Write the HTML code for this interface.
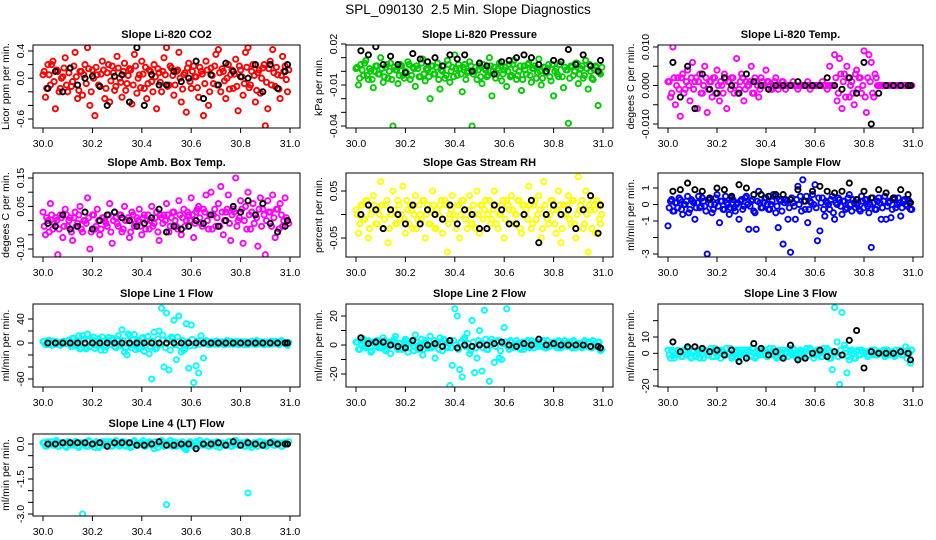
<!DOCTYPE html>
<html><head><meta charset="utf-8"><style>
html,body{margin:0;padding:0;background:#fff;}
svg{display:block;font-family:"Liberation Sans",sans-serif;}
</style></head><body>
<svg id="chart" width="936" height="540" viewBox="0 0 936 540" xmlns="http://www.w3.org/2000/svg">
<rect width="936" height="540" fill="#fff"/>
<text x="468" y="14" text-anchor="middle" font-size="13.5">SPL_090130&#160; 2.5 Min. Slope Diagnostics</text>
</svg>
<script>
const times = [30.00,30.01,30.02,30.03,30.04,30.05,30.06,30.07,30.08,30.09,30.10,30.11,30.12,30.13,30.14,30.15,30.16,30.17,30.18,30.19,30.20,30.21,30.22,30.23,30.24,30.25,30.26,30.27,30.28,30.29,30.30,30.31,30.32,30.33,30.34,30.35,30.36,30.37,30.38,30.39,30.40,30.41,30.42,30.43,30.44,30.45,30.46,30.47,30.48,30.49,30.50,30.51,30.52,30.53,30.54,30.55,30.56,30.57,30.58,30.59,30.60,30.61,30.62,30.63,30.64,30.65,30.66,30.67,30.68,30.69,30.70,30.71,30.72,30.73,30.74,30.75,30.76,30.77,30.78,30.79,30.80,30.81,30.82,30.83,30.84,30.85,30.86,30.87,30.88,30.89,30.90,30.91,30.92,30.93,30.94,30.95,30.96,30.97,30.98,30.99];
const times2 = [30.005,30.015,30.025,30.035,30.045,30.055,30.065,30.075,30.085,30.095,30.105,30.115,30.125,30.135,30.145,30.155,30.165,30.175,30.185,30.195,30.205,30.215,30.225,30.235,30.245,30.255,30.265,30.275,30.285,30.295,30.305,30.315,30.325,30.335,30.345,30.355,30.365,30.375,30.385,30.395,30.405,30.415,30.425,30.435,30.445,30.455,30.465,30.475,30.485,30.495,30.505,30.515,30.525,30.535,30.545,30.555,30.565,30.575,30.585,30.595,30.605,30.615,30.625,30.635,30.645,30.655,30.665,30.675,30.685,30.695,30.705,30.715,30.725,30.735,30.745,30.755,30.765,30.775,30.785,30.795,30.805,30.815,30.825,30.835,30.845,30.855,30.865,30.875,30.885,30.895,30.905,30.915,30.925,30.935,30.945,30.955,30.965,30.975,30.985,30.995];
const blackTimes = [30.02,30.05,30.08,30.11,30.14,30.17,30.20,30.23,30.26,30.29,30.32,30.35,30.38,30.41,30.44,30.47,30.50,30.53,30.56,30.59,30.62,30.65,30.68,30.71,30.74,30.77,30.80,30.83,30.86,30.89,30.92,30.95,30.98,30.99];
const xTicks = [30.0,30.2,30.4,30.6,30.8,31.0];
const xTickLabels = ["30.0","30.2","30.4","30.6","30.8","31.0"];

const co2Values = [0.05,-0.28,0.2,-0.1,0.25,-0.45,0.1,-0.15,0.02,0.3,-0.2,0.15,-0.05,0.38,-0.3,0.1,-0.25,0.2,0.45,-0.4,0.12,-0.55,0.05,-0.12,0.25,-0.3,0.08,-0.35,0.18,-0.18,0.32,0.0,-0.28,0.22,-0.08,0.14,-0.38,0.35,-0.22,0.05,0.25,-0.15,-0.3,0.12,-0.05,0.2,-0.45,0.08,-0.2,0.3,0.45,-0.1,0.15,-0.25,0.1,0.38,-0.35,0.05,-0.5,0.22,-0.15,0.18,0.02,-0.28,0.1,-0.55,0.25,-0.4,0.15,-0.08,0.35,0.42,-0.2,0.1,-0.3,0.2,0.05,-0.15,0.28,-0.48,0.12,-0.25,0.38,0.45,-0.1,0.2,-0.35,0.08,-0.22,0.15,-0.7,-0.45,0.25,0.42,-0.12,0.05,-0.3,0.32,0.18,-0.2];
const co2Band = [0.1,-0.15,0.05,0.2,-0.05,0.12,-0.2,0.0,0.15,-0.1,0.08,-0.12,0.18,0.02,-0.18,0.1,0.05,-0.08,0.14,-0.2,0.0,0.16,-0.1,0.06,0.12,-0.15,0.2,-0.04,0.08,-0.12,0.15,-0.06,0.1,-0.18,0.04,0.12,-0.1,0.18,0.0,-0.14,0.06,0.16,-0.08,0.1,-0.2,0.02,0.14,-0.06,0.1,0.05,-0.12,0.18,0.04,-0.1,0.12,0.0,-0.16,0.08,0.15,-0.05,0.1,0.02,-0.14,0.16,0.06,-0.08,0.12,-0.2,0.04,0.18,-0.1,0.08,0.14,-0.04,0.0,-0.16,0.12,0.06,-0.12,0.18,0.02,-0.08,0.16,-0.14,0.1,0.04,-0.18,0.12,0.0,0.2,-0.06,0.14,-0.1,0.08,0.16,-0.16,0.04,0.1,-0.02,0.12];
const co2Black = [-0.15,0.1,-0.2,0.15,-0.1,0.0,0.03,-0.12,-0.4,0.03,0.05,-0.35,0.45,-0.4,0.05,-0.1,-0.1,0.1,-0.05,0.0,0.25,-0.3,0.05,-0.1,0.22,0.1,0.02,0.0,0.2,-0.2,0.2,-0.15,0.1,0.2];
const pressValues = [0.002,-0.01,0.005,-0.003,0.008,-0.006,0.0,-0.012,0.004,-0.002,0.01,-0.008,0.003,-0.005,0.006,-0.04,0.001,-0.009,0.005,-0.003,0.0,0.007,-0.006,0.003,-0.011,0.002,-0.004,0.009,-0.007,0.001,-0.02,0.004,-0.002,0.006,-0.013,0.0,-0.005,0.008,-0.008,0.003,0.012,-0.003,0.002,-0.015,0.005,-0.001,0.007,-0.04,0.0,-0.006,0.004,-0.009,0.002,-0.004,0.01,-0.018,0.003,-0.002,0.006,-0.007,0.001,-0.011,0.005,-0.003,0.008,-0.006,0.0,-0.014,0.004,-0.002,0.006,-0.008,0.002,-0.005,0.009,-0.01,0.003,-0.001,0.005,-0.007,-0.018,0.002,-0.004,0.007,-0.012,0.001,-0.038,0.004,-0.003,0.006,-0.009,0.002,-0.005,0.008,-0.013,0.0,-0.006,0.004,-0.025,-0.002];
const pressBand = [0.003,-0.005,0.001,0.006,-0.003,0.002,-0.006,0.0,0.004,-0.002,0.002,-0.004,0.005,0.0,-0.006,0.003,0.001,-0.003,0.004,-0.005,-0.001,0.005,-0.003,0.002,0.004,-0.004,0.006,-0.002,0.002,-0.004,0.004,-0.002,0.003,-0.006,0.001,0.004,-0.003,0.005,0.0,-0.004,0.002,0.005,-0.002,0.003,-0.006,0.0,0.004,-0.002,0.003,0.001,-0.004,0.005,0.001,-0.003,0.004,0.0,-0.005,0.002,0.004,-0.002,0.003,0.0,-0.004,0.005,0.002,-0.003,0.004,-0.006,0.001,0.005,-0.003,0.002,0.004,-0.001,0.0,-0.005,0.003,0.002,-0.004,0.005,0.0,-0.002,0.005,-0.004,0.003,0.001,-0.005,0.003,0.0,0.006,-0.002,0.004,-0.003,0.002,0.005,-0.005,0.001,0.003,-0.001,0.003];
const pressBlack = [0.015,0.012,0.018,0.005,0.011,0.005,-0.001,0.013,0.009,0.007,0.01,0.004,0.012,0.009,0.012,0.0,0.006,0.004,-0.002,0.007,0.008,0.01,0.012,0.01,0.005,0.0,0.008,0.007,0.016,0.005,0.012,0.004,0.0,0.008];
const tempValues = [0.001,-0.003,0.010,-0.005,0.002,-0.008,0.003,-0.001,0.004,-0.004,0.006,0.001,-0.006,0.003,-0.002,0.005,-0.007,0.001,-0.003,0.002,0.004,-0.004,0.0,0.003,-0.006,0.001,0.002,-0.002,0.007,-0.001,0.003,-0.004,0.001,0.0,0.005,-0.002,0.001,-0.003,0.002,0.0,0.004,0.001,-0.001,0.0,0.002,-0.001,0.0,0.001,-0.001,0.0,0.0,0.001,0.0,-0.001,0.0,0.0,0.0,0.001,-0.001,0.0,0.0,0.0,0.0,0.001,0.0,-0.001,0.005,0.0,0.008,-0.004,0.007,-0.006,0.003,0.005,-0.003,0.001,-0.005,0.004,0.002,-0.002,0.009,-0.007,0.008,0.006,-0.003,0.002,0.0,0.0,0.0,0.0,0,0,0,0,0,0,0,0,0,0];
const tempBand = [0.001,-0.002,0.002,0.0,-0.001,0.002,-0.002,0.001,0.0,0.002,-0.001,0.002,0.001,-0.002,0.0,0.002,-0.001,0.001,0.002,-0.002,0.0,0.001,-0.002,0.002,0.001,-0.001,0.002,0.0,-0.002,0.001,0.002,-0.001,0.0,0.001,-0.002,0.002,0.0,-0.001,0.001,0.0,0.001,0.0,-0.001,0.001,0.0,0.0,0.001,0.0,0.0,0.0,0,0,0,0,0,0,0,0,0,0,0,0,0,0,0,0,0,0,0.002,-0.002,0.003,0.001,-0.003,0.002,0.0,-0.002,0.003,-0.001,0.002,0.0,-0.003,0.002,0.001,-0.002,0.003,0.0,0,0,0,0,0,0,0,0,0,0,0,0,0,0];
const tempBlack = [0.006,-0.003,0.005,-0.006,0.003,-0.001,-0.002,0.002,0.0,-0.002,0.003,0.001,0.0,-0.001,0.0,0.0,0.0,0.001,0.0,0.0,0.0,0.002,0.0,-0.001,0.002,-0.002,0.006,-0.01,-0.002,0.0,0.0,0.0,0.0,0.0];
const ambValues = [0.03,-0.05,0.0,0.06,-0.03,0.01,-0.12,0.02,-0.06,0.04,-0.02,0.01,-0.07,0.03,-0.01,0.05,-0.04,0.0,0.08,-0.1,0.02,-0.03,0.04,-0.05,0.01,0.0,-0.02,0.06,-0.08,0.03,-0.01,0.02,-0.04,0.05,0.0,-0.06,0.03,-0.02,0.01,0.04,-0.05,0.02,0.0,-0.03,0.05,-0.01,0.03,-0.07,0.01,0.02,0.06,-0.04,0.01,0.03,-0.02,0.07,-0.05,0.04,0.0,0.02,0.08,-0.06,0.03,0.05,-0.01,0.04,0.09,-0.03,0.1,0.02,-0.02,0.06,0.12,-0.05,0.03,0.09,-0.07,0.04,0.15,0.0,0.07,-0.08,0.05,0.1,-0.03,0.06,0.02,-0.09,0.08,0.04,-0.12,0.07,0.03,0.09,-0.06,0.04,0.06,-0.02,0.08,0.0];
const ambBand = [-0.02,0.01,-0.04,0.02,-0.01,0.0,-0.03,0.01,-0.02,0.02,0.0,-0.04,0.01,-0.02,0.02,-0.03,0.0,-0.01,0.01,-0.04,0.02,-0.02,0.0,-0.03,0.01,-0.01,0.02,-0.04,0.0,0.01,-0.02,0.02,-0.03,0.0,0.01,-0.04,0.02,-0.01,0.0,-0.02,0.01,-0.03,0.02,0.0,-0.02,0.01,-0.04,0.02,-0.01,0.0,0.02,-0.02,0.03,0.0,-0.03,0.02,0.01,-0.02,0.03,0.0,0.02,-0.01,0.04,0.01,-0.02,0.03,0.0,0.02,-0.03,0.04,0.01,-0.02,0.03,0.0,0.04,-0.01,0.02,0.03,-0.02,0.01,0.04,0.0,-0.03,0.02,0.03,-0.01,0.01,0.04,-0.02,0.02,0.0,0.03,-0.02,0.01,0.04,-0.03,0.02,0.0,0.01,-0.01];
const ambBlack = [-0.01,-0.02,0.02,-0.03,-0.02,0.03,-0.03,0.0,0.02,0.03,0.01,0.0,-0.02,-0.01,0.01,0.04,-0.04,-0.02,-0.03,-0.02,0.0,-0.01,0.02,-0.02,0.0,0.05,0.03,0.07,0.02,0.06,-0.01,-0.04,-0.02,0.0];
const rhValues = [0.01,-0.04,0.02,-0.01,0.03,-0.05,0.0,0.04,-0.02,0.01,0.07,-0.03,0.02,-0.06,0.0,0.05,-0.02,0.03,-0.01,0.06,-0.04,0.01,0.02,-0.03,0.04,-0.01,0.0,0.03,-0.05,0.02,-0.02,0.05,-0.03,0.01,0.02,-0.04,0.03,-0.08,0.0,0.04,-0.01,0.02,-0.05,0.03,0.01,-0.03,0.04,-0.02,0.0,0.05,-0.04,0.02,0.01,-0.03,0.03,-0.01,0.05,-0.02,0.0,0.02,-0.05,0.03,0.01,0.04,-0.02,0.0,0.03,-0.04,0.02,0.01,0.06,-0.03,0.02,-0.01,0.04,-0.05,0.07,0.0,-0.02,0.03,0.01,-0.04,0.05,-0.06,0.02,0.0,0.04,-0.02,0.03,-0.05,0.08,0.02,-0.03,0.05,-0.08,0.01,0.03,-0.04,0.02,-0.02];
const rhBand = [0.0,-0.02,0.02,-0.01,0.03,-0.03,0.01,0.02,-0.02,0.0,0.02,-0.01,0.03,-0.03,0.0,0.01,-0.02,0.02,0.0,-0.01,0.03,-0.02,0.01,0.0,-0.03,0.02,-0.01,0.03,0.0,-0.02,0.01,0.02,-0.03,0.0,0.03,-0.01,0.02,-0.02,0.01,0.0,-0.03,0.02,0.0,0.03,-0.01,0.01,-0.02,0.02,-0.03,0.0,0.02,-0.01,0.03,0.0,-0.02,0.01,0.02,-0.03,0.0,0.03,-0.01,0.02,-0.02,0.01,0.0,0.03,-0.03,0.02,0.0,-0.01,0.02,-0.02,0.03,0.0,0.01,-0.03,0.02,-0.01,0.0,0.03,-0.02,0.01,0.02,-0.03,0.0,0.02,-0.01,0.03,-0.02,0.0,0.01,0.03,-0.02,0.0,0.02,-0.03,0.01,0.03,-0.01,0.0];
const rhBlack = [0.0,0.02,0.01,-0.03,0.01,0.0,-0.02,0.02,-0.02,0.01,0.0,-0.01,0.02,-0.02,0.01,0.0,-0.03,-0.03,0.02,0.01,-0.02,-0.02,0.0,0.03,-0.06,0.0,0.02,0.0,0.01,-0.03,0.01,0.04,-0.04,0.02];
const flowValues = [-1.3,0.2,-0.4,0.1,-0.2,0.3,-0.6,0.0,0.5,-0.3,0.2,-0.9,0.1,-0.2,0.4,-0.1,-3.0,0.3,-0.5,0.0,0.6,-1.1,0.2,-0.3,0.1,-0.6,0.4,-0.2,0.0,-0.9,0.3,-0.1,0.5,-1.5,0.2,-0.4,-1.5,0.8,-0.2,0.1,0.4,-0.3,0.0,0.6,-0.5,-1.4,0.2,-2.4,0.3,-0.9,-2.9,0.1,-0.9,1.1,0.5,1.5,-0.3,-1.1,0.2,0.6,1.2,-2.2,-1.6,0.4,-0.7,0.1,-0.3,0.5,-0.9,0.0,0.3,-0.6,0.2,-0.2,0.6,-0.4,0.1,0.0,-0.3,0.5,-0.2,0.3,-0.5,-2.6,0.1,-0.3,0.4,-0.9,0.2,-0.9,0.1,-0.8,0.3,-0.2,0.4,-0.7,0.2,0.0,0.3,-0.3];
const flowBand = [-0.2,0.3,-0.4,0.1,0.4,-0.3,0.0,0.2,-0.5,0.3,0.1,-0.2,0.5,-0.1,0.2,-0.4,0.3,0.0,-0.3,0.4,-0.1,0.2,-0.3,0.5,0.0,-0.2,0.3,-0.4,0.1,0.2,-0.3,0.4,0.0,-0.1,0.3,-0.5,0.2,0.1,-0.2,0.4,0.0,-0.3,0.2,0.5,-0.1,0.3,-0.4,0.1,0.2,-0.2,0.4,-0.1,0.3,0.0,-0.4,0.2,0.5,-0.3,0.1,0.0,-0.2,0.4,0.1,-0.3,0.2,0.0,0.3,-0.5,0.1,0.4,-0.1,0.2,-0.3,0.4,0.0,0.3,-0.2,0.1,-0.4,0.2,0.3,-0.1,0.0,0.4,-0.3,0.2,0.1,-0.2,0.5,-0.1,0.2,-0.3,0.4,0.0,0.1,-0.2,0.3,-0.1,0.2,-0.3];
const flowBlack = [0.8,0.9,1.3,0.9,0.8,0.4,1.0,0.9,0.5,1.2,1.0,0.6,0.6,0.5,0.6,0.6,0.3,0.9,0.2,0.8,1.1,0.8,0.7,0.8,1.3,0.3,0.8,0.4,0.9,0.7,0.4,0.9,0.6,0.1];
const line1Values = [2,-3,4,-1,3,-2,1,-4,2,0,3,-2,8,-5,2,-10,12,-8,15,-6,5,-9,3,-4,10,-12,4,-2,8,-6,6,-3,22,-15,-20,12,-8,14,5,-10,8,-14,2,-18,-60,18,-8,20,58,-40,50,-45,10,38,-28,45,-15,-12,32,-42,30,-66,-38,-50,12,-25,4,-3,2,-1,3,-2,1,-2,2,-1,3,-2,1,-3,2,-1,2,-3,1,0,2,-2,1,-1,2,-1,1,-2,3,-1,2,0,1,-4];
const line1Band = [3,-2,4,-4,1,2,-3,0,3,-1,5,-6,8,-3,12,-8,6,-10,4,-5,10,-4,7,-12,3,-6,9,-2,5,-8,12,-5,4,-9,15,-3,6,-11,2,-7,9,-4,11,-6,3,-10,7,-2,13,-8,5,-12,8,-3,10,-6,4,-9,2,-5,6,-4,3,-2,4,-1,2,-3,1,-2,3,-1,2,-3,4,-2,1,0,3,-2,2,-3,1,-1,3,-2,4,-1,2,-3,1,-2,3,-1,2,-3,4,0,-2,1];
const line1Black = [0,0,0,0,0,0,0,0,0,0,0,0,0,0,0,0,0,0,0,0,0,0,0,0,0,0,0,0,0,0,0,0,0,0];
const line2Values = [2,-3,1,4,-2,3,-5,2,-1,3,-2,5,-4,1,-6,2,6,-3,1,-2,4,-5,2,-1,7,-3,1,-7,3,-2,6,-1,-9,2,5,-4,3,-2,-28,-14,25,20,-17,-22,5,8,-6,17,-19,-9,10,-18,24,-3,-25,4,-12,2,-9,-10,12,25,-3,2,-1,3,-2,1,-3,2,-1,3,-2,1,2,-1,3,-2,0,1,2,-1,3,-2,1,0,2,-1,3,-2,1,-1,2,0,1,-2,3,-1,2,-4];
const line2Band = [2,-3,3,-1,0,2,-4,1,3,-2,-1,3,-3,2,0,4,-2,1,-3,2,3,-2,1,-4,2,0,4,-3,1,-1,-2,3,0,-3,2,4,-1,1,-2,3,0,-3,2,4,-1,1,-4,2,-2,3,1,-2,4,-3,0,2,-1,3,-4,1,2,-1,3,-2,0,1,-3,2,-1,3,-2,1,2,-1,0,2,-2,3,-1,1,0,-2,2,-1,3,-1,1,-2,2,0,1,-2,3,-1,2,-2,1,0,2,-3];
const line2Black = [5,1,2,2,0,-1,-2,3,-2,0,1,-1,3,-2,0,-1,0,0,1,2,0,-1,1,0,4,0,1,0,0,0,0,-1,-1,-2];
const line3Values = [2,-3,1,-1,2,0,-2,1,3,-2,1,-1,2,-3,0,2,-1,1,-2,3,-2,1,2,-1,3,0,-3,1,2,-1,0,2,-2,1,-1,3,-2,0,1,-1,2,-1,0,3,-2,1,-1,2,0,-2,1,3,-1,0,2,-2,1,-1,3,0,-1,2,0,-2,1,3,-3,-10,28,7,-19,25,5,-12,-4,2,-3,1,-1,2,0,1,-1,2,0,-1,1,0,2,-1,1,0,-1,2,0,1,-1,4,2,-6];
const line3Band = [-1,2,-3,1,0,-2,2,-1,3,-3,1,-2,0,2,-3,1,-1,3,-2,0,2,-3,1,-1,0,3,-2,1,-3,2,-1,0,2,-2,3,-3,1,-1,2,0,-2,3,-1,1,-3,2,0,-2,1,3,-1,2,-3,0,1,-2,3,-1,2,-3,0,1,-2,3,-1,2,-3,1,0,-2,2,-1,3,-2,1,0,-3,2,-1,1,0,-2,1,-1,2,-1,0,1,-2,2,-1,1,-2,0,2,-1,1,-3,0,2];
const line3Black = [7,1,4,4,3,1,2,-1,2,-5,-3,6,3,-1,1,-3,5,-4,-3,0,2,-2,1,-1,8,14,-9,1,0,0,0,1,0,-4];
const line4Values = [0.05,-0.1,0.1,0.0,-0.05,0.1,-0.1,0.05,0.0,-0.1,0.1,-0.05,0.0,0.1,-0.1,0.05,-3.0,0.0,-0.1,0.1,0.0,-0.15,0.05,-0.1,0.1,0.0,-0.05,0.1,-0.1,0.05,0.0,-0.1,0.1,-0.05,0.05,0.0,-0.1,0.15,-0.05,0.0,0.05,-0.1,0.0,0.1,-0.05,-0.2,0.0,0.05,0.15,-0.1,-2.6,-0.05,0.0,0.1,-0.1,0.05,0.0,-0.15,-0.25,0.05,0.0,-0.1,0.1,0.05,-0.05,0.0,0.1,-0.1,0.05,0.0,-0.1,0.05,0.0,-0.05,0.0,0.1,-0.1,0.0,0.15,-0.05,0.05,0.0,-0.1,-2.1,-0.05,0.0,0.05,-0.1,0.1,0.0,-0.05,0.05,0.0,0.1,-0.05,0.0,0.05,-0.1,0.05,0.0];
const line4Band = [0.05,-0.1,0.0,0.1,-0.05,0.15,-0.1,0.0,0.05,-0.15,0.1,0.0,-0.05,0.1,-0.15,0.05,0.0,-0.1,0.15,-0.05,0.0,0.1,-0.15,0.05,-0.05,0.1,0.0,-0.1,0.05,0.15,-0.05,0.0,0.1,-0.1,0.05,-0.15,0.1,0.0,-0.05,0.05,0.15,-0.1,0.0,0.05,-0.05,0.1,-0.15,0.0,0.1,-0.05,0.05,0.15,-0.1,0.0,0.05,-0.05,0.1,-0.2,0.0,0.1,-0.05,0.05,-0.1,0.15,0.0,-0.05,0.1,-0.1,0.05,0.0,0.1,-0.15,0.05,0.0,-0.05,0.1,-0.1,0.15,0.0,-0.05,0.05,-0.1,0.1,0.0,-0.15,0.05,0.0,0.1,-0.05,0.05,-0.1,0.0,0.1,-0.05,0.05,0.0,-0.1,0.05,0.0,0.1];
const line4Black = [0.0,0.0,0.05,0.05,0.05,0.05,0.0,0.05,-0.1,0.05,0.05,0.05,-0.05,-0.05,0.0,0.1,-0.05,-0.05,0.0,0.0,-0.2,0.0,0.0,0.05,-0.05,0.1,-0.05,0.05,0.0,-0.05,0.05,0.0,0.0,0.0];

const co2Ticks=[0.4,0.2,0.0,-0.2,-0.4,-0.6], co2Labels=["0.4","","0.0","","","-0.6"];
const pressTicks=[0.02,0.01,0.0,-0.01,-0.02,-0.03,-0.04], pressLabels=["0.02","","","-0.01","","","-0.04"];
const tempTicks=[0.010,0.005,0.0,-0.005,-0.010], tempLabels=["0.010","","0.000","","-0.010"];
const ambTicks=[0.15,0.10,0.05,0.0,-0.05,-0.10], ambLabels=["0.15","","0.05","","","-0.10"];
const rhTicks=[0.05,0.0,-0.05], rhLabels=["0.05","","-0.05"];
const flowTicks=[1,0,-1,-2,-3], flowLabels=["1","0","-1","","-3"];
const line1Ticks=[40,20,0,-20,-40,-60], line1Labels=["40","","0","","","-60"];
const line2Ticks=[20,10,0,-10,-20], line2Labels=["20","","0","","-20"];
const line3Ticks=[20,10,0,-10,-20], line3Labels=["","10","0","","-20"];
const line4Ticks=[0,-0.5,-1,-1.5,-2,-2.5,-3], line4Labels=["0.0","","","-1.5","","","-3.0"];

const panels = [
 {name:"co2",title:"Slope Li-820 CO2",ylab:"Licor ppm per min.",col:0,row:0,color:"#ff0000",vals:co2Values,band:co2Band,blk:co2Black,ticks:co2Ticks,labels:co2Labels,ref:[0.4,51,-0.6,119]},
 {name:"pressure",title:"Slope Li-820 Pressure",ylab:"kPa per min.",col:1,row:0,color:"#00cc00",vals:pressValues,band:pressBand,blk:pressBlack,ticks:pressTicks,labels:pressLabels,ref:[0.02,44,-0.04,126]},
 {name:"temp",title:"Slope Li-820 Temp.",ylab:"degees C per min.",col:2,row:0,color:"#ff00ff",vals:tempValues,band:tempBand,blk:tempBlack,ticks:tempTicks,labels:tempLabels,ref:[0.01,47,-0.01,124]},
 {name:"amb-box-temp",title:"Slope Amb. Box Temp.",ylab:"degees C per min.",col:0,row:1,color:"#ff00ff",vals:ambValues,band:ambBand,blk:ambBlack,ticks:ambTicks,labels:ambLabels,ref:[0.15,178,-0.10,249]},
 {name:"gas-rh",title:"Slope Gas Stream RH",ylab:"percent per min.",col:1,row:1,color:"#ffff00",vals:rhValues,band:rhBand,blk:rhBlack,ticks:rhTicks,labels:rhLabels,ref:[0.05,191,-0.05,238]},
 {name:"sample-flow",title:"Slope Sample Flow",ylab:"ml/min per min.",col:2,row:1,color:"#0000ff",vals:flowValues,band:flowBand,blk:flowBlack,ticks:flowTicks,labels:flowLabels,ref:[1,188,-3,254]},
 {name:"line1",title:"Slope Line 1 Flow",ylab:"ml/min per min.",col:0,row:2,color:"#00ffff",vals:line1Values,band:line1Band,blk:line1Black,ticks:line1Ticks,labels:line1Labels,ref:[40,319,-60,379]},
 {name:"line2",title:"Slope Line 2 Flow",ylab:"ml/min per min.",col:1,row:2,color:"#00ffff",vals:line2Values,band:line2Band,blk:line2Black,ticks:line2Ticks,labels:line2Labels,ref:[20,316,-20,374]},
 {name:"line3",title:"Slope Line 3 Flow",ylab:"ml/min per min.",col:2,row:2,color:"#00ffff",vals:line3Values,band:line3Band,blk:line3Black,ticks:line3Ticks,labels:line3Labels,ref:[10,337,-20,386]},
 {name:"line4",title:"Slope Line 4 (LT) Flow",ylab:"ml/min per min.",col:0,row:3,color:"#00ffff",vals:line4Values,band:line4Band,blk:line4Black,ticks:line4Ticks,labels:line4Labels,ref:[0,444,-3,514]}
];
const colX30=[43,356,668], colX31=[290,603,913];
const rowTop=[45,173,304,434], rowBot=[128,257,387,516];
const NS="http://www.w3.org/2000/svg";
const svg=document.getElementById("chart");
function mk(tag,attrs,parent){const e=document.createElementNS(NS,tag);for(const k in attrs)e.setAttribute(k,attrs[k]);(parent||svg).appendChild(e);return e;}

panels.forEach(p=>{
  const x0=colX30[p.col], x1=colX31[p.col];
  const xs=v=>x0+(v-30)*(x1-x0);
  const ys=v=>p.ref[1]+(v-p.ref[0])*(p.ref[3]-p.ref[1])/(p.ref[2]-p.ref[0]);
  const L=x0-10,R=x1+10,T=rowTop[p.row],B=rowBot[p.row];
  const g=mk("g",{});
  
  
  const t=mk("text",{x:(L+R)/2,y:T-7,"text-anchor":"middle","font-size":"11","font-weight":"bold"},g);
  t.textContent=p.title;
  
  
  const cp=mk("clipPath",{id:"cp"+p.name},g);
  mk("rect",{x:L,y:T,width:R-L,height:B-T},cp);
  const pts=mk("g",{"clip-path":"url(#cp"+p.name+")",fill:"none","stroke-width":"1.9"},g);
  
  
  const nb=Math.min(times2.length,p.band.length);
  for(let i=0;i<nb;i++){
    const c=mk("circle",{cx:xs(times2[i]).toFixed(1),cy:ys(p.band[i]).toFixed(1),r:2.6,stroke:p.color},pts);
    
    
  }
  const n=Math.min(times.length,p.vals.length);
  for(let i=0;i<n;i++){
    const c=mk("circle",{cx:xs(times[i]).toFixed(1),cy:ys(p.vals[i]).toFixed(1),r:2.6,stroke:p.color},pts);
    
    
  }
  const m=Math.min(blackTimes.length,p.blk.length);
  for(let i=0;i<m;i++){
    const c=mk("circle",{cx:xs(blackTimes[i]).toFixed(1),cy:ys(p.blk[i]).toFixed(1),r:2.6,stroke:"#000"},pts);
    
    
  }
  const box=mk("rect",{x:L,y:T,width:R-L,height:B-T,fill:"none",stroke:"#000","stroke-width":"1"},g);
  
  
  const xa=mk("g",{},g);
  
  
  mk("line",{x1:xs(xTicks[0]),x2:xs(xTicks[xTicks.length-1]),y1:B,y2:B,stroke:"#000"},xa);
  xTicks.forEach((v,i)=>{
    mk("line",{x1:xs(v),x2:xs(v),y1:B,y2:B+5,stroke:"#000"},xa);
    const tl=mk("text",{x:xs(v),y:B+19,"text-anchor":"middle","font-size":"10.5"},xa);
    tl.textContent=xTickLabels[i];
    
    
  });
  const ya=mk("g",{},g);
  
  
  mk("line",{x1:L,x2:L,y1:ys(p.ticks[0]),y2:ys(p.ticks[p.ticks.length-1]),stroke:"#000"},ya);
  p.ticks.forEach((v,i)=>{
    const y=ys(v);
    mk("line",{x1:L-5,x2:L,y1:y,y2:y,stroke:"#000"},ya);
    if(p.labels[i]){
      const tl=mk("text",{x:0,y:0,transform:`translate(${L-9},${y}) rotate(-90)`,"text-anchor":"middle","font-size":"10.5"},ya);
      tl.textContent=p.labels[i];
      
      
    }
  });
  const yl=mk("text",{x:0,y:0,transform:`translate(${L-24},${(T+B)/2}) rotate(-90)`,"text-anchor":"middle","font-size":"10.5"},g);
  yl.textContent=p.ylab;
  
  
});
</script>
</body></html>
